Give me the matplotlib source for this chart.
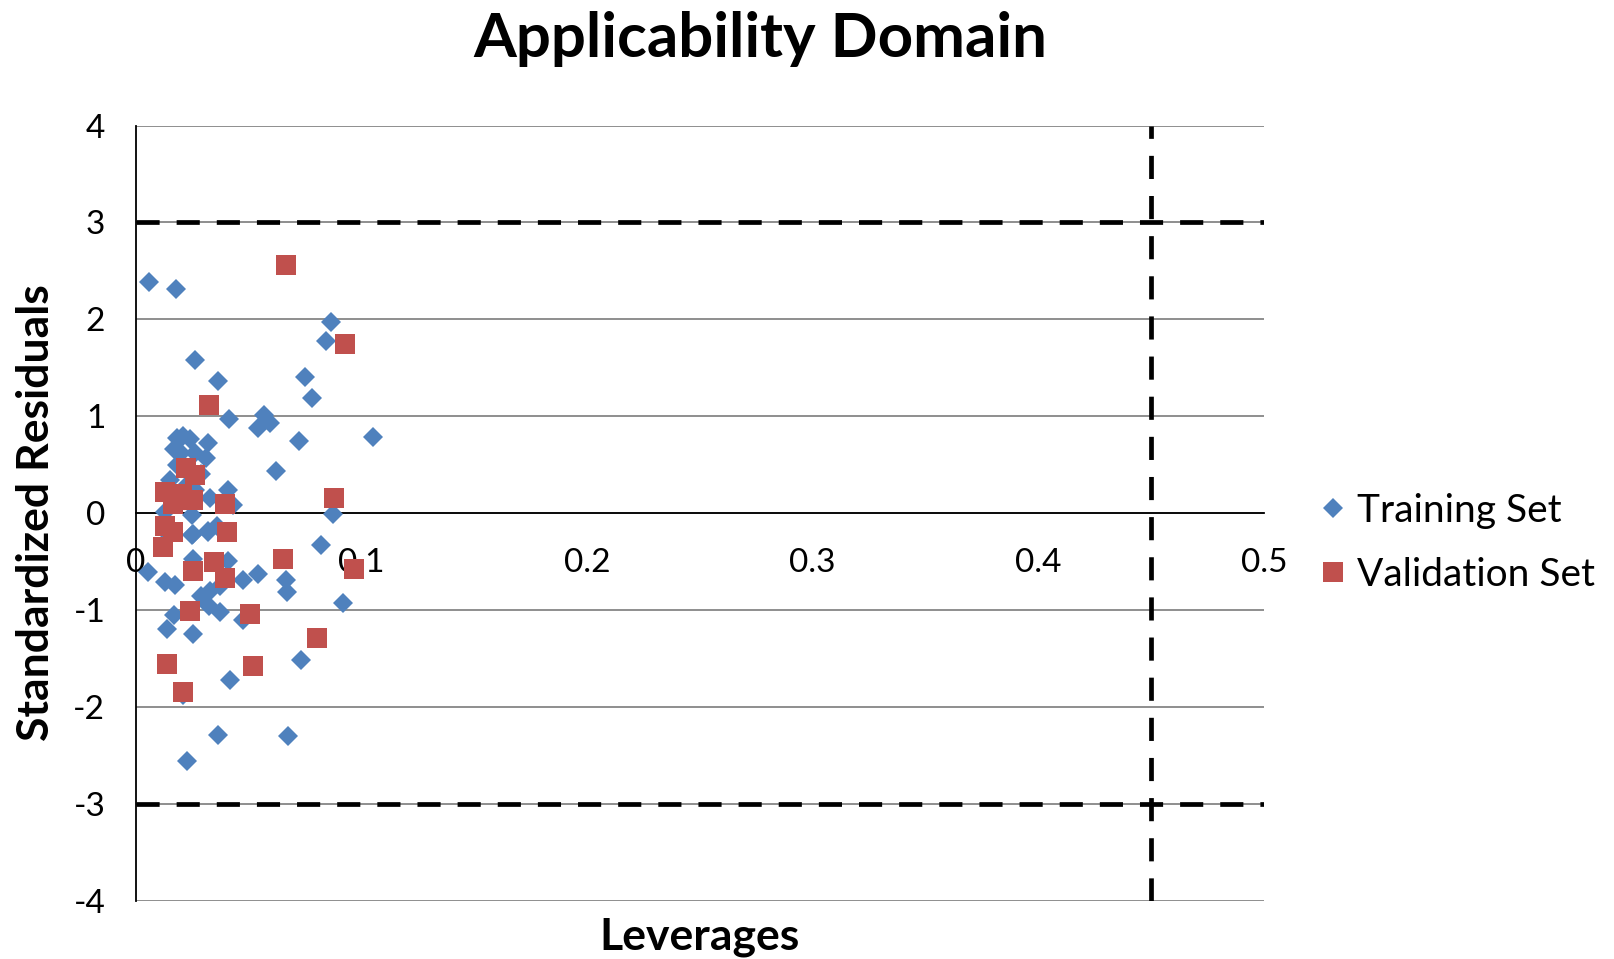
import matplotlib
matplotlib.use("Agg")
import matplotlib.pyplot as plt
from matplotlib.lines import Line2D

plt.rcParams['font.family'] = ['Lato', 'DejaVu Sans']
plt.rcParams['axes.unicode_minus'] = False

# Training set (leverage, standardized residual)
train_x = [0.0059, 0.0176, 0.0863, 0.0844, 0.0264, 0.0363, 0.0750, 0.0780, 0.0414, 0.0566,
           0.0595, 0.0540, 0.1050, 0.0724, 0.0620, 0.0875,
           0.018, 0.021, 0.024, 0.017, 0.020, 0.026, 0.032, 0.031, 0.018, 0.015,
           0.023, 0.029, 0.018, 0.033, 0.041, 0.043, 0.026, 0.013, 0.025, 0.015,
           0.025, 0.032, 0.036, 0.012,
           0.0821, 0.0052, 0.0130, 0.0174, 0.0253, 0.0320, 0.0253, 0.0410, 0.0374, 0.0474,
           0.0540, 0.0666, 0.0669, 0.0289, 0.0330, 0.0326, 0.0374, 0.0477, 0.0167, 0.0137,
           0.0255, 0.0920, 0.0731, 0.0415, 0.0207, 0.0366, 0.0675, 0.0226]
train_y = [2.39, 2.31, 1.97, 1.78, 1.58, 1.36, 1.40, 1.19, 0.97, 1.01,
           0.93, 0.88, 0.79, 0.74, 0.43, -0.01,
           0.78, 0.80, 0.76, 0.66, 0.62, 0.62, 0.72, 0.57, 0.50, 0.34,
           0.30, 0.40, 0.19, 0.16, 0.24, 0.08, 0.24, 0.01, -0.02, -0.23,
           -0.23, -0.19, -0.13, -0.32,
           -0.33, -0.61, -0.71, -0.74, -0.22, -0.20, -0.47, -0.49, -0.75, -0.69,
           -0.63, -0.69, -0.81, -0.86, -0.80, -0.96, -1.02, -1.10, -1.05, -1.20,
           -1.25, -0.93, -1.52, -1.72, -1.88, -2.29, -2.30, -2.56]

# Validation set
valid_x = [0.0665, 0.0928, 0.0325, 0.0880, 0.0223, 0.0263, 0.0127, 0.0204, 0.0255, 0.0396,
           0.0164, 0.0127, 0.0164, 0.0120, 0.0406, 0.0654, 0.0347, 0.0253, 0.0393, 0.0968,
           0.0241, 0.0507, 0.0802, 0.0140, 0.0519, 0.0207]
valid_y = [2.556, 1.75, 1.12, 0.16, 0.47, 0.39, 0.22, 0.20, 0.14, 0.09,
           0.09, -0.13, -0.20, -0.35, -0.20, -0.47, -0.51, -0.60, -0.67, -0.58,
           -1.01, -1.04, -1.29, -1.56, -1.58, -1.85]

warning_h = 0.45
res_limit = 3

x_ticks = [0, 0.1, 0.2, 0.3, 0.4, 0.5]
x_labels = ['0', '0.1', '0.2', '0.3', '0.4', '0.5']
y_ticks = [-4, -3, -2, -1, 0, 1, 2, 3, 4]
series_names = ['Training Set', 'Validation Set']

BLUE = '#4F81BD'
RED = '#C0504D'

fig = plt.figure(figsize=(16.14, 9.59), dpi=100)
ax = fig.add_axes([0.0842, 0.061, 0.6988, 0.808])

ax.set_xlim(0, 0.5)
ax.set_ylim(-4, 4)
ax.set_yticks(y_ticks)
ax.set_xticks(x_ticks)
ax.set_xticklabels(x_labels)
ax.yaxis.grid(True, color='#868686', linewidth=1.3)
ax.set_axisbelow(True)

for s in ['top', 'right']:
    ax.spines[s].set_visible(False)
ax.spines['bottom'].set_position(('data', 0))
ax.spines['bottom'].set_color('black')
ax.spines['bottom'].set_linewidth(1.3)
ax.spines['left'].set_color('black')
ax.spines['left'].set_linewidth(1.3)
ax.tick_params(axis='both', length=0, labelsize=24)
ax.tick_params(axis='x', pad=25)
ax.tick_params(axis='y', pad=22)

dash = (4.9, 3.6)
for yv in (res_limit, -res_limit):
    ax.axhline(yv, color='black', linewidth=3.4, dashes=dash, zorder=3)
ax.axvline(warning_h, color='black', linewidth=3.4, dashes=dash, zorder=3)

ax.plot(train_x, train_y, linestyle='none', marker='D', markersize=9.7,
        color=BLUE, markeredgewidth=0, zorder=4)
ax.plot(valid_x, valid_y, linestyle='none', marker='s', markersize=14.4,
        color=RED, markeredgewidth=0, zorder=5)

fig.text(0.4713, 0.959, 'Applicability Domain', ha='center', va='center',
         fontsize=44.5, fontweight='bold')
fig.text(0.0223, 0.4655, 'Standardized Residuals', ha='center', va='center',
         rotation=90, fontsize=32, fontweight='bold')
fig.text(0.4337, 0.0233, 'Leverages', ha='center', va='center',
         fontsize=32, fontweight='bold')

# legend drawn in figure coordinates
leg_mx = 1333 / 1614
leg_tx = 1357 / 1614
leg_rows = [1 - 508 / 959, 1 - 572 / 959]
fig.add_artist(Line2D([leg_mx], [leg_rows[0]], transform=fig.transFigure, linestyle='none',
                      marker='D', markersize=10, color=BLUE, markeredgewidth=0))
fig.add_artist(Line2D([leg_mx], [leg_rows[1]], transform=fig.transFigure, linestyle='none',
                      marker='s', markersize=14.4, color=RED, markeredgewidth=0))
for name, yr in zip(series_names, leg_rows):
    fig.text(leg_tx, yr - 0.003, name, ha='left', va='center', fontsize=28)

fig.savefig('out.png', dpi=100)
